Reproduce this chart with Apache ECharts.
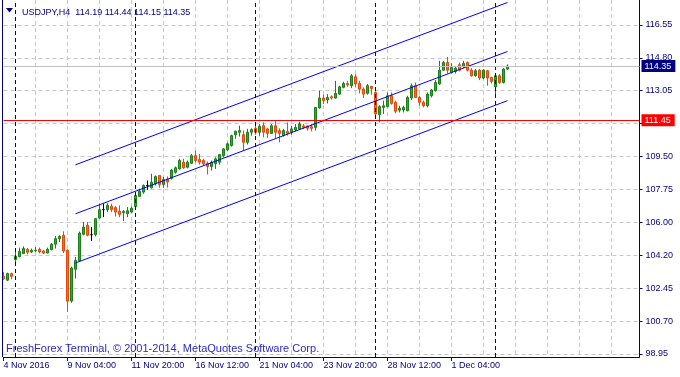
<!DOCTYPE html>
<html><head><meta charset="utf-8">
<script src="https://cdn.jsdelivr.net/npm/echarts@6/dist/echarts.min.js"></script>
<style>html,body{margin:0;padding:0;background:#fff;overflow:hidden}#c{width:680px;height:377px}</style>
</head><body><div id="c"></div>
<script>
// ---- data (USDJPY H4) ----
const opens = [103.11,102.90,103.25,104.00,104.16,104.32,104.54,104.41,104.47,104.55,104.46,104.35,104.53,104.82,105.12,105.30,104.50,101.78,103.48,103.93,
105.35,105.83,105.33,105.33,106.22,106.67,106.67,106.85,106.78,106.59,106.51,106.45,106.54,106.84,107.38,107.61,107.96,107.84,108.05,108.50,
108.02,108.30,108.34,108.67,108.85,109.21,108.94,109.15,109.56,109.35,109.30,109.15,108.98,109.12,109.21,109.56,109.87,110.10,110.68,110.81,
110.68,110.27,110.81,111.02,110.81,111.16,110.99,110.75,111.16,110.90,110.63,110.86,110.81,110.93,110.99,111.15,111.15,111.11,111.07,112.11,
112.64,112.54,112.71,112.64,112.85,113.21,113.42,113.30,113.78,113.42,113.12,112.89,113.26,112.94,111.75,112.14,112.18,112.76,112.41,111.99,
112.00,111.96,112.64,113.30,112.67,112.41,112.23,112.76,113.03,113.39,114.13,114.54,114.01,114.06,114.42,114.31,114.54,114.13,113.83,114.13,
113.71,114.10,113.74,113.24,113.83,113.47,114.19];
const highs = [103.34,103.30,103.30,104.60,104.64,104.71,104.62,104.59,104.67,104.64,104.52,104.64,104.89,105.26,105.30,105.51,104.55,103.62,104.14,105.50,
106.01,106.01,105.74,106.22,106.99,106.99,107.02,106.99,106.85,106.90,106.65,106.81,106.84,107.55,107.79,108.02,108.23,108.59,108.50,108.52,
108.42,108.45,108.85,108.98,109.39,109.39,109.30,109.65,109.83,109.65,109.39,109.25,109.30,109.47,109.65,109.97,110.27,110.68,110.90,111.16,
110.90,110.99,111.02,111.16,111.25,111.34,111.05,111.25,111.47,111.02,110.99,111.34,111.16,111.25,111.38,111.25,111.16,111.25,112.16,113.03,
112.82,112.85,112.78,113.56,113.30,113.51,113.56,113.92,113.92,113.56,113.21,113.39,113.30,113.00,112.26,112.50,112.94,112.94,112.50,112.23,
112.23,112.76,113.42,113.47,112.76,112.50,112.94,113.12,113.60,114.63,114.63,114.84,114.49,114.36,114.54,114.63,114.60,114.24,114.19,114.19,
114.19,114.15,113.78,113.92,113.92,114.24,114.44];
const lows = [102.90,102.85,102.95,103.82,104.11,104.30,104.28,104.35,104.41,104.33,104.30,104.33,104.50,104.59,104.94,104.35,101.21,101.69,102.99,103.90,
105.30,105.24,104.99,105.24,106.18,106.27,106.54,106.54,106.31,106.27,106.06,106.27,106.49,106.80,107.34,107.52,107.73,107.80,107.96,107.84,
107.84,107.85,108.28,108.60,108.80,108.85,108.88,109.12,109.20,109.08,109.03,108.55,108.76,108.85,109.08,109.47,109.79,110.04,110.46,110.58,
109.83,110.15,110.63,110.68,110.63,110.54,110.51,110.72,110.51,110.27,110.58,110.63,110.68,110.86,110.93,110.99,110.90,110.86,110.90,112.07,
112.32,112.35,112.56,112.60,112.80,113.16,113.24,113.17,113.24,112.89,112.64,112.82,112.82,111.61,111.34,111.79,112.14,112.28,111.82,111.87,
111.87,111.93,112.53,112.64,112.23,112.14,112.14,112.67,112.99,113.35,114.10,113.95,113.95,113.95,114.06,114.24,114.06,113.78,113.78,113.60,
113.65,113.30,113.42,112.85,113.39,113.42,114.15];
const closes = [102.97,103.25,103.11,104.18,104.44,104.59,104.39,104.50,104.50,104.41,104.35,104.55,104.82,105.12,105.24,104.46,101.78,103.55,103.96,105.42,
105.74,105.30,105.33,106.19,106.67,106.67,106.90,106.67,106.54,106.42,106.58,106.61,106.75,107.43,107.66,107.96,107.96,108.14,108.44,108.02,
108.28,108.15,108.79,108.91,109.30,108.91,109.21,109.56,109.30,109.21,109.12,108.98,109.21,109.39,109.62,109.92,110.19,110.63,110.86,110.90,
110.27,110.81,110.95,110.81,111.13,110.81,110.75,111.16,110.81,110.75,110.90,110.75,110.99,111.07,111.25,111.07,111.02,111.02,112.14,112.64,
112.50,112.67,112.64,112.89,113.24,113.42,113.35,113.83,113.39,113.12,112.85,113.30,113.15,111.79,112.18,112.23,112.76,112.35,111.93,112.09,
112.14,112.67,113.30,112.67,112.41,112.23,112.85,113.07,113.47,114.13,114.54,114.13,114.27,114.24,114.13,114.49,114.13,113.83,114.10,113.71,
114.13,113.71,113.53,113.83,113.47,114.19,114.35];

const slotCount = 160;                       // bar slots on the time axis (incl. empty right margin)
const xTickLabels = ['4 Nov 2016','9 Nov 04:00','11 Nov 20:00','16 Nov 12:00','21 Nov 04:00','23 Nov 20:00','28 Nov 12:00','1 Dec 04:00'];
const xTickStep = 16;
const weekSeparators = [3, 33, 63, 93, 123];  // Monday 00:00 bars
const yTickValues = [98.95,100.71,102.47,104.23,105.99,107.75,109.51,111.27,113.03,114.79,116.55];
const yTickLabels = ['98.95','100.70','102.45','104.20','106.00','107.75','109.50','111.25','113.05','114.80','116.55'];
const channelIdx = [18, 126];
const channelUpper = [109.07, 117.75];
const channelMid = [106.45, 115.13];
const channelLower = [103.82, 112.50];
const levelLine = 111.45;
const bidPrice = 114.35;
const titleText = 'USDJPY,H4  114.19 114.44 114.15 114.35';
const copyrightText = 'FreshForex Terminal, \u00a9 2001-2014, MetaQuotes Software Corp.';

const xCats = Array.from({length: slotCount}, (_, i) => String(i));
const candleData = opens.map((o, i) => [o, closes[i], lows[i], highs[i]]);
const chLine = arr => arr.map((v, k) => [String(channelIdx[k]), v]);

const NAVY = '#000080';
const FONT = 'Liberation Sans';
const GL = 3.5, GW = 636;   // 4 px per bar slot
const chart = echarts.init(document.getElementById('c'), null, {renderer: 'canvas'});
chart.setOption({
  animation: false,
  backgroundColor: '#ffffff',
  textStyle: {fontFamily: FONT},
  grid: {left: GL, top: -1, width: GW, height: 358, show: false},
  xAxis: {
    type: 'category', data: xCats, boundaryGap: false,
    axisLine: {show: true, lineStyle: {color: NAVY, width: 1}},
    axisTick: {show: true, length: 4, lineStyle: {color: NAVY},
      interval: (i) => i % xTickStep === 0 && i / xTickStep < xTickLabels.length},
    axisLabel: {show: true, color: NAVY, fontSize: 9, fontFamily: FONT, align: 'left', margin: 4,
      padding: [0, 0, 0, 0],
      interval: (i) => i % xTickStep === 0 && i / xTickStep < xTickLabels.length,
      formatter: (v, i) => xTickLabels[Math.round(Number(v) / xTickStep)] || ''},
    splitLine: {show: true, interval: (i) => i % 8 === 0 && i > 0,
      lineStyle: {color: '#c8c8c8', type: [4, 3], width: 1}}
  },
  yAxis: {
    type: 'value', position: 'right', min: 98.79, max: 117.8833, scale: true,
    axisLine: {show: true, lineStyle: {color: NAVY, width: 1}},
    axisTick: {show: true, length: 3, lineStyle: {color: NAVY}, customValues: yTickValues},
    axisLabel: {show: true, color: NAVY, fontSize: 9, fontFamily: FONT, margin: 6, customValues: yTickValues,
      formatter: (v) => { const k = yTickValues.findIndex(t => Math.abs(t - v) < 1e-6); return k >= 0 ? yTickLabels[k] : ''; }},
    splitLine: {show: true, lineStyle: {color: '#c8c8c8', type: [4, 3], width: 1}}
  },
  title: {
    text: titleText, left: 17, top: 3,
    textStyle: {fontSize: 9, fontWeight: 'normal', color: NAVY, fontFamily: FONT}
  },
  graphic: [
    {type: 'line', shape: {x1: 2.5, y1: 0, x2: 2.5, y2: 357}, style: {stroke: NAVY, lineWidth: 1}, z: 10},
    {type: 'polygon', shape: {points: [[6, 8], [13, 8], [9.5, 12.5]]}, style: {fill: NAVY}},
    {type: 'text', x: 6, y: 349, style: {text: copyrightText, fill: '#2b2bbf', font: '11px "Liberation Sans"', textVerticalAlign: 'middle'}, z: 10}
  ],
  series: [
    {
      type: 'candlestick', data: candleData, barWidth: 2, clip: false,
      itemStyle: {color: '#32a832', color0: '#ff6a10', borderColor: '#1c7f1c', borderColor0: '#e4480a',
        borderColorDoji: '#000000', borderWidth: 1},
      markLine: {
        silent: true, symbol: ['none', 'none'], animation: false,
        data: [
          ...weekSeparators.map(i => ({xAxis: String(i), lineStyle: {color: NAVY, type: [4, 3], width: 1}, label: {show: false}})),
          {yAxis: bidPrice, lineStyle: {color: '#c0c0c0', type: 'solid', width: 1},
            label: {show: true, position: 'end', distance: 2, formatter: bidPrice.toFixed(2), color: '#fff',
              backgroundColor: NAVY, padding: [2, 4, 1, 3], fontSize: 9, fontFamily: FONT}},
          {yAxis: levelLine, lineStyle: {color: '#ff0000', type: 'solid', width: 1},
            label: {show: true, position: 'end', distance: 2, formatter: levelLine.toFixed(2), color: '#fff',
              backgroundColor: '#ff0000', padding: [2, 4, 1, 3], fontSize: 9, fontFamily: FONT}}
        ]
      }
    },
    {type: 'line', data: chLine(channelUpper), symbol: 'none', lineStyle: {color: '#0000ff', width: 1}, silent: true},
    {type: 'line', data: chLine(channelMid), symbol: 'none', lineStyle: {color: '#0000ff', width: 1}, silent: true},
    {type: 'line', data: chLine(channelLower), symbol: 'none', lineStyle: {color: '#0000ff', width: 1}, silent: true}
  ]
});
</script>
</body></html>
